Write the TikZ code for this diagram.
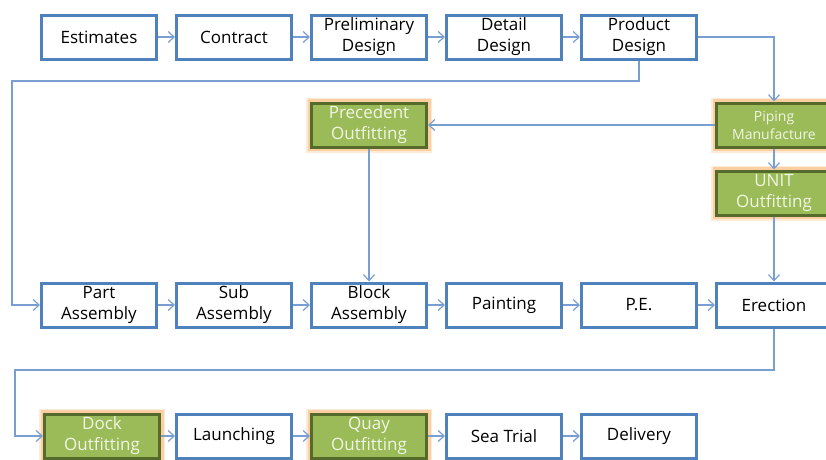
\documentclass[tikz,border=0pt]{standalone}
\usepackage{fontspec}
\setmainfont{Open Sans}
\usetikzlibrary{arrows.meta,positioning,shadows}
\definecolor{boxblue}{RGB}{79,129,189}
\definecolor{linkblue}{RGB}{120,158,210}
\definecolor{oliv}{RGB}{155,187,89}
\definecolor{olivdark}{RGB}{86,106,44}
\definecolor{glow}{RGB}{250,196,140}
\definecolor{paletext}{RGB}{240,246,228}

\begin{document}
\begin{tikzpicture}[x=1pt,y=-1pt,>={Straight Barb[length=6pt,width=11pt]},
  base/.style={line width=3pt,minimum width=115pt,minimum height=44pt,inner sep=1pt,align=center,font=\fontsize{17}{21}\selectfont},
  st/.style={base,draw=boxblue,fill=white,drop shadow={shadow xshift=0.5pt,shadow yshift=-2pt,opacity=0.3}},
  ot/.style={base,draw=olivdark,fill=oliv,text=paletext,preaction={draw=glow,line width=11pt,opacity=0.35},preaction={draw=glow,line width=8pt,opacity=0.7}},
  ln/.style={draw=linkblue,line width=1.2pt}]
\useasboundingbox (0,0) rectangle (826,459);
% design row
\node[st] (est) at (99,37) {Estimates};
\node[st,right=17pt of est] (con) {Contract};
\node[st,right=17pt of con] (pre) {Preliminary\\Design};
\node[st,right=17pt of pre] (det) {Detail\\Design};
\node[st,right=17pt of det] (prd) {Product\\Design};
% hull row
\node[st] (part) at (99,305) {Part\\Assembly};
\node[st,right=17pt of part] (sub) {Sub\\Assembly};
\node[st,right=17pt of sub] (blk) {Block\\Assembly};
\node[st,right=17pt of blk] (pnt) {Painting};
\node[st,right=17pt of pnt] (pe) {P.E.};
\node[st,right=17pt of pe] (ere) {Erection};
% outfitting
\node[ot,above=65pt of ere] (unit) {UNIT\\Outfitting};
\node[ot,above=21pt of unit,font=\fontsize{14}{18}\selectfont] (pip) {Piping\\Manufacture};
\node[ot] (prec) at (blk |- pip) {Precedent\\Outfitting};
% final row
\node[ot] (dock) at (102,436) {Dock\\Outfitting};
\node[st,right=14pt of dock] (lau) {Launching};
\node[ot,right=17pt of lau] (quay) {Quay\\Outfitting};
\node[st,right=17pt of quay] (sea) {Sea Trial};
\node[st,right=17pt of sea] (del) {Delivery};
\coordinate (c1) at (12,81);
\coordinate (c2) at (15,370);

\draw[ln,->] (est) -- (con);
\draw[ln,->] (con) -- (pre);
\draw[ln,->] (pre) -- (det);
\draw[ln,->] (det) -- (prd);
\draw[ln,->] (prd.east) -| (pip.north);
\draw[ln,->] (prd.south) |- (c1) |- (part.west);
\draw[ln,->] (pip) -- (prec);
\draw[ln,->] (pip) -- (unit);
\draw[ln,->] (prec) -- (blk);
\draw[ln,->] (unit) -- (ere);
\draw[ln,->] (part) -- (sub);
\draw[ln,->] (sub) -- (blk);
\draw[ln,->] (blk) -- (pnt);
\draw[ln,->] (pnt) -- (pe);
\draw[ln,->] (pe) -- (ere);
\draw[ln,->] (ere.south) |- (c2) |- (dock.west);
\draw[ln,->] (dock) -- (lau);
\draw[ln,->] (lau) -- (quay);
\draw[ln,->] (quay) -- (sea);
\draw[ln,->] (sea) -- (del);
\end{tikzpicture}
\end{document}
